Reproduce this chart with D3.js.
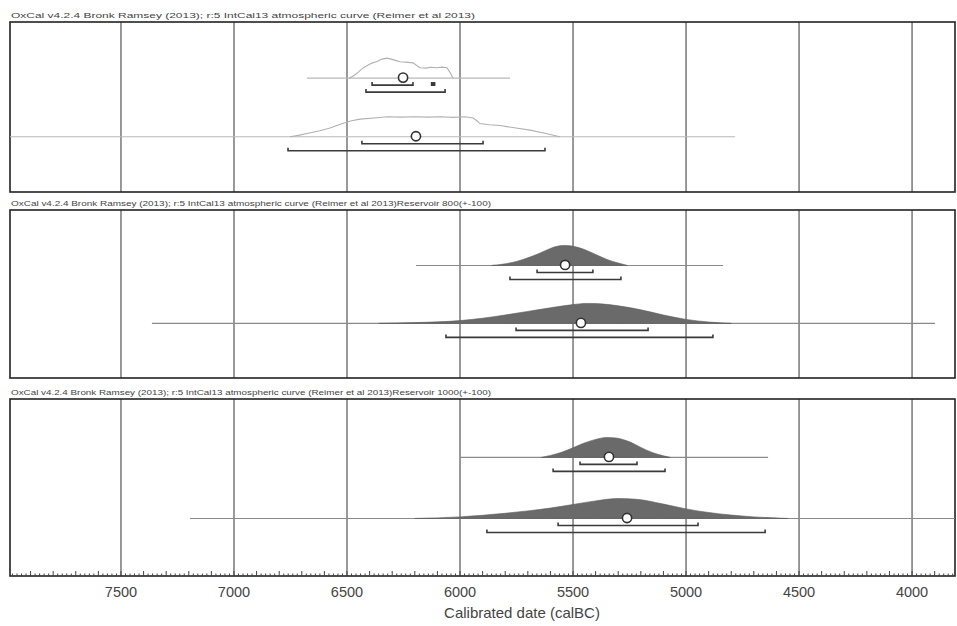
<!DOCTYPE html>
<html>
<head>
<meta charset="utf-8">
<script src="https://cdn.jsdelivr.net/npm/d3@7"></script>
<style>
  html, body { margin: 0; padding: 0; background: #fff; }
  svg { display: block; font-family: "Liberation Sans", Arial, sans-serif; }
</style>
</head>
<body>
<svg id="chart" width="957" height="626"></svg>
<script>
// ---- data ----
const tickYears = [7500, 7000, 6500, 6000, 5500, 5000, 4500, 4000];
const axisTitle = "Calibrated date (calBC)";
const panelTitles = [
  "OxCal v4.2.4 Bronk Ramsey (2013); r:5 IntCal13 atmospheric curve (Reimer et al 2013)",
  "OxCal v4.2.4 Bronk Ramsey (2013); r:5 IntCal13 atmospheric curve (Reimer et al 2013)Reservoir 800(+-100)",
  "OxCal v4.2.4 Bronk Ramsey (2013); r:5 IntCal13 atmospheric curve (Reimer et al 2013)Reservoir 1000(+-100)"
];

// one entry per plotted date: panel index, row in panel
const rowPanel = [0, 0, 1, 1, 2, 2];
const rowSlot  = [0, 1, 0, 1, 0, 1];
// extent of the thin range line (calBC)
const rangeFrom = [6677, 7991, 6195, 7363, 6000, 7195];
const rangeTo   = [5779, 4783, 4836, 3898, 4637, 3810];
// point estimate (circle)
const medianYear = [6252, 6195, 5535, 5465, 5341, 5261];
// 68.2% and 95.4% ranges
const sigma1From = [6389, 6434, 5659, 5752, 5469, 5566];
const sigma1To   = [6208, 5898, 5412, 5168, 5217, 4947];
const sigma2From = [6416, 6761, 5779, 6062, 5588, 5881];
const sigma2To   = [6066, 5624, 5288, 4881, 5093, 4650];
// small separate 68.2% fragment
const extraYear  = [6119, null, null, null, null, null];

// probability distributions [calBC, relative probability]
const densA = [[6490,0],[6470,0.12],[6450,0.3],[6430,0.5],[6412,0.62],[6390,0.75],[6370,0.82],[6345,0.95],[6323,1],[6305,0.95],[6290,0.9],[6265,0.82],[6240,0.8],[6208,0.76],[6190,0.62],[6177,0.52],[6150,0.5],[6130,0.54],[6102,0.52],[6080,0.55],[6058,0.52],[6045,0.3],[6031,0]];
const densB = [[6752,0],[6710,0.08],[6677,0.16],[6620,0.3],[6575,0.44],[6520,0.66],[6480,0.8],[6442,0.88],[6380,0.94],[6320,1],[6265,0.98],[6200,1],[6140,0.98],[6088,1],[6030,0.97],[5978,1],[5942,0.94],[5925,0.8],[5912,0.66],[5870,0.6],[5823,0.56],[5760,0.45],[5690,0.33],[5620,0.16],[5558,0]];
const densC = [[5860,0],[5800,0.08],[5750,0.2],[5700,0.38],[5650,0.6],[5600,0.85],[5560,0.98],[5530,1],[5500,0.96],[5450,0.8],[5400,0.55],[5350,0.3],[5300,0.12],[5260,0]];
const densD = [[6360,0],[6200,0.04],[6000,0.14],[5900,0.26],[5800,0.42],[5700,0.6],[5600,0.78],[5500,0.94],[5440,1],[5380,0.98],[5300,0.88],[5200,0.68],[5100,0.42],[5000,0.2],[4900,0.07],[4800,0]];
const densE = [[5640,0],[5600,0.1],[5550,0.26],[5500,0.48],[5450,0.72],[5400,0.9],[5350,1],[5310,0.97],[5250,0.78],[5200,0.5],[5150,0.25],[5100,0.08],[5070,0]];
const densF = [[6200,0],[6000,0.08],[5900,0.16],[5800,0.26],[5700,0.38],[5600,0.52],[5500,0.7],[5400,0.88],[5300,1],[5220,0.96],[5100,0.72],[5000,0.48],[4900,0.3],[4800,0.17],[4700,0.08],[4550,0]];
const densities = [densA, densB, densC, densD, densE, densF];
// panel 0 shows outlines only, later panels filled
const panelFilled = [false, true, true];

// ---- layout ----
const svg = d3.select("#chart");
const plotLeft = 10, plotRight = 955;
const panelTop = [22, 210, 399];
const panelBottom = [192, 378, 576];
const rowFrac = [0.33, 0.675];
const peakHeight = 20;

const x = d3.scaleLinear().domain([7991, 3810]).range([plotLeft, plotRight]);
const h = d3.scaleLinear().domain([0, 1]).range([0, peakHeight]);

function rowY(i) {
  const p = rowPanel[i];
  return panelTop[p] + (panelBottom[p] - panelTop[p]) * rowFrac[rowSlot[i]];
}

// panels: title, grid lines, frame
panelTitles.forEach((t, p) => {
  const g = svg.append("g");
  g.append("text")
    .attr("x", plotLeft + 1)
    .attr("y", panelTop[p] - 4)
    .attr("font-size", 8)
    .attr("fill", "#444")
    .attr("textLength", p === 0 ? 464 : 480)
    .attr("lengthAdjust", "spacingAndGlyphs")
    .text(t);

  g.selectAll("line.grid")
    .data(tickYears)
    .join("line")
    .attr("class", "grid")
    .attr("x1", d => x(d)).attr("x2", d => x(d))
    .attr("y1", panelTop[p]).attr("y2", panelBottom[p])
    .attr("stroke", "#555").attr("stroke-width", 1.2);

  g.append("rect")
    .attr("x", plotLeft).attr("y", panelTop[p])
    .attr("width", plotRight - plotLeft)
    .attr("height", panelBottom[p] - panelTop[p])
    .attr("fill", "none").attr("stroke", "#222").attr("stroke-width", 1.6);
});

// distributions
const clipId = "plotclip";
svg.append("clipPath").attr("id", clipId)
  .append("rect").attr("x", plotLeft).attr("y", 0)
  .attr("width", plotRight - plotLeft).attr("height", 626);

const marks = svg.append("g").attr("clip-path", `url(#${clipId})`);

densities.forEach((dens, i) => {
  const y0 = rowY(i);
  const filled = panelFilled[rowPanel[i]];
  const g = marks.append("g");

  // range line
  g.append("line")
    .attr("x1", x(rangeFrom[i])).attr("x2", x(rangeTo[i]))
    .attr("y1", y0).attr("y2", y0)
    .attr("stroke", filled ? "#8a8a8a" : "#b8b8b8")
    .attr("stroke-width", 1.1);

  const area = d3.area()
    .x(d => x(d[0]))
    .y0(y0)
    .y1(d => y0 - h(d[1]))
    .curve(d3.curveMonotoneX);
  const line = d3.line()
    .x(d => x(d[0]))
    .y(d => y0 - h(d[1]))
    .curve(d3.curveLinear);

  if (filled) {
    g.append("path").datum(dens).attr("d", area)
      .attr("fill", "#6a6a6a").attr("stroke", "#5a5a5a").attr("stroke-width", 0.6);
  } else {
    g.append("path").datum(dens).attr("d", line)
      .attr("fill", "none").attr("stroke", "#b0b0b0").attr("stroke-width", 1.1);
  }

  // range brackets
  const brackets = [
    { a: sigma1From[i], b: sigma1To[i], dy: 7 },
    { a: sigma2From[i], b: sigma2To[i], dy: 14 }
  ];
  brackets.forEach(br => {
    const yy = y0 + br.dy;
    const x1 = x(br.a), x2 = x(br.b);
    g.append("path")
      .attr("d", `M${x1},${yy - 3}L${x1},${yy}L${x2},${yy}L${x2},${yy - 3}`)
      .attr("fill", "none").attr("stroke", "#3a3a3a").attr("stroke-width", 1.6);
  });
  if (extraYear[i] !== null) {
    const xe = x(extraYear[i]);
    g.append("path")
      .attr("d", `M${xe - 1.5},${y0 + 4}L${xe - 1.5},${y0 + 7}L${xe + 1.5},${y0 + 7}L${xe + 1.5},${y0 + 4}`)
      .attr("fill", "#3a3a3a").attr("stroke", "#3a3a3a").attr("stroke-width", 1.6);
  }

  // point estimate
  g.append("circle")
    .attr("cx", x(medianYear[i])).attr("cy", y0 - 0.5)
    .attr("r", 4.6)
    .attr("fill", "#fff").attr("stroke", "#333").attr("stroke-width", 1.6);
});

// bottom axis with inward ticks
const axisY = panelBottom[2];
const axisG = svg.append("g");
const minorYears = d3.range(3820, 7991, 20);
axisG.selectAll("line.tk")
  .data(minorYears)
  .join("line")
  .attr("class", "tk")
  .attr("x1", d => x(d)).attr("x2", d => x(d))
  .attr("y1", axisY)
  .attr("y2", d => axisY - (d % 100 === 0 ? 5 : 2.5))
  .attr("stroke", "#444").attr("stroke-width", 1);

axisG.selectAll("text.lbl")
  .data(tickYears)
  .join("text")
  .attr("class", "lbl")
  .attr("x", d => x(d))
  .attr("y", axisY + 21)
  .attr("text-anchor", "middle")
  .attr("font-size", 14.5)
  .attr("fill", "#444")
  .text(d => d);

svg.append("text")
  .attr("x", 522)
  .attr("y", 618)
  .attr("text-anchor", "middle")
  .attr("font-size", 15)
  .attr("fill", "#444")
  .text(axisTitle);
</script>
</body>
</html>
